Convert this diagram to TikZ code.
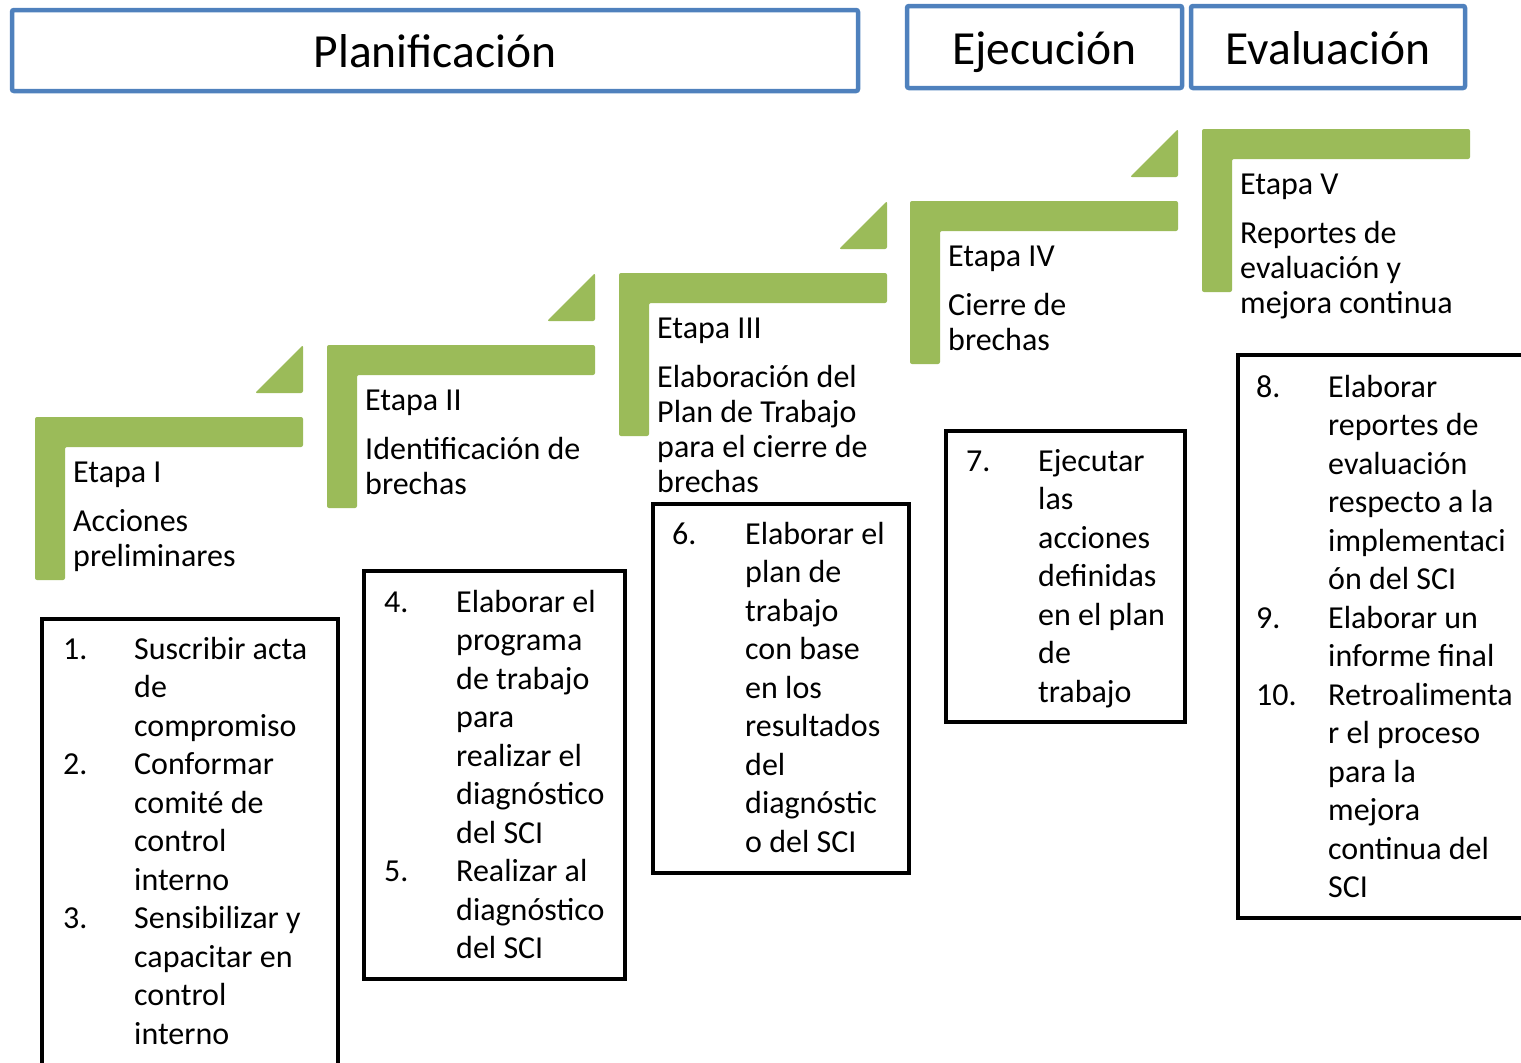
\documentclass[tikz,border=0pt]{standalone}
\usepackage{fontspec}
\setmainfont{Carlito}
\usetikzlibrary{positioning}
\definecolor{azul}{RGB}{79,129,189}
\definecolor{verde}{RGB}{155,187,89}

\begin{document}
\begin{tikzpicture}
  [x=1pt, y=-1pt,
   fase/.style={draw=azul, line width=4.5pt, rounded corners=2pt, inner sep=0pt, text height=34pt, text depth=0pt, font=\fontsize{47.5}{57}\selectfont},
   peldano/.style={fill=verde, rounded corners=2pt},
   etapa/.style={inner sep=0pt, font=\fontsize{32}{35}\selectfont},
   caja/.style={draw, line width=4.5pt, anchor=north west, inner sep=0pt, outer sep=0pt},
   lista/.style={inner sep=0pt, font=\fontsize{32}{38.5}\selectfont}]
  \clip (0,0) rectangle (1521,1063);

  % fases
  \node[fase, minimum width=846pt, minimum height=81pt] (plan) at (435,50.5) {Planificación};
  \node[fase, minimum width=275pt, minimum height=82pt] (ejec) at (1044.5,47) {Ejecución};
  \node[fase, minimum width=274pt, minimum height=82pt] (eval) at (1328,47) {Evaluación};

  % escalones
  \coordinate (p1) at (35,417);
  \coordinate (p2) at (327,345);
  \coordinate (p3) at (619,273);
  \coordinate (p4) at (910,201);
  \coordinate (p5) at (1202,129);
  \fill[peldano] (p1) -- ++(268,0) -- ++(0,30) -- ++(-238,0) -- ++(0,133) -- ++(-30,0) -- cycle;
  \fill[peldano] (p2) -- ++(268,0) -- ++(0,30) -- ++(-238,0) -- ++(0,133) -- ++(-30,0) -- cycle;
  \fill[peldano] (p3) -- ++(268,0) -- ++(0,30) -- ++(-238,0) -- ++(0,133) -- ++(-30,0) -- cycle;
  \fill[peldano] (p4) -- ++(268,0) -- ++(0,30) -- ++(-238,0) -- ++(0,133) -- ++(-30,0) -- cycle;
  \fill[peldano] (p5) -- ++(268,0) -- ++(0,30) -- ++(-238,0) -- ++(0,133) -- ++(-30,0) -- cycle;
  \fill[peldano] ([shift={(220,-24)}]p1) -- ++(48,-48) -- ++(0,48) -- cycle;
  \fill[peldano] ([shift={(220,-24)}]p2) -- ++(48,-48) -- ++(0,48) -- cycle;
  \fill[peldano] ([shift={(220,-24)}]p3) -- ++(48,-48) -- ++(0,48) -- cycle;
  \fill[peldano] ([shift={(220,-24)}]p4) -- ++(48,-48) -- ++(0,48) -- cycle;

  \node[etapa, below right=41pt and 38pt of p1] (e1)
    {\begin{tabular}{@{}l@{}}Etapa I\\[14pt] Acciones\\ preliminares\end{tabular}};
  \node[etapa, below right=41pt and 38pt of p2] (e2)
    {\begin{tabular}{@{}l@{}}Etapa II\\[14pt] Identificación de\\ brechas\end{tabular}};
  \node[etapa, below right=41pt and 38pt of p3] (e3)
    {\begin{tabular}{@{}l@{}}Etapa III\\[14pt] Elaboración del\\ Plan de Trabajo\\ para el cierre de\\ brechas\end{tabular}};
  \node[etapa, below right=41pt and 38pt of p4] (e4)
    {\begin{tabular}{@{}l@{}}Etapa IV\\[14pt] Cierre de\\ brechas\end{tabular}};
  \node[etapa, below right=41pt and 38pt of p5] (e5)
    {\begin{tabular}{@{}l@{}}Etapa V\\[14pt] Reportes de\\ evaluación y\\ mejora continua\end{tabular}};

  % actividades
  \node[caja, minimum width=296pt, minimum height=500pt] (c1) at (42,619) {};
  \node[caja, minimum width=261pt, minimum height=408pt] (c2) at (364,571) {};
  \node[caja, minimum width=256pt, minimum height=369pt] (c3) at (653,504) {};
  \node[caja, minimum width=239pt, minimum height=291pt] (c4) at (946,431) {};
  \node[caja, minimum width=342pt, minimum height=563pt] (c5) at (1238,355) {};

  \node[lista, below right=13pt and 21pt of c1.north west] (l1)
    {\begin{tabular}{@{}p{71pt}@{}l@{}}
      1. & Suscribir acta\\ & de\\ & compromiso\\
      2. & Conformar\\ & comité de\\ & control\\ & interno\\
      3. & Sensibilizar y\\ & capacitar en\\ & control\\ & interno
    \end{tabular}};
  \node[lista, below right=14pt and 20pt of c2.north west] (l2)
    {\begin{tabular}{@{}p{72pt}@{}l@{}}
      4. & Elaborar el\\ & programa\\ & de trabajo\\ & para\\ & realizar el\\ & diagnóstico\\ & del SCI\\
      5. & Realizar al\\ & diagnóstico\\ & del SCI
    \end{tabular}};
  \node[lista, below right=13pt and 19pt of c3.north west] (l3)
    {\begin{tabular}{@{}p{73pt}@{}l@{}}
      6. & Elaborar el\\ & plan de\\ & trabajo\\ & con base\\ & en los\\ & resultados\\ & del\\ & diagnóstic\\ & o del SCI
    \end{tabular}};
  \node[lista, below right=13pt and 20pt of c4.north west] (l4)
    {\begin{tabular}{@{}p{72pt}@{}l@{}}
      7. & Ejecutar\\ & las\\ & acciones\\ & definidas\\ & en el plan\\ & de\\ & trabajo
    \end{tabular}};
  \node[lista, below right=15pt and 18pt of c5.north west] (l5)
    {\begin{tabular}{@{}p{72pt}@{}l@{}}
      8. & Elaborar\\ & reportes de\\ & evaluación\\ & respecto a la\\ & implementaci\\ & ón del SCI\\
      9. & Elaborar un\\ & informe final\\
      10. & Retroalimenta\\ & r el proceso\\ & para la\\ & mejora\\ & continua del\\ & SCI
    \end{tabular}};
\end{tikzpicture}
\end{document}
